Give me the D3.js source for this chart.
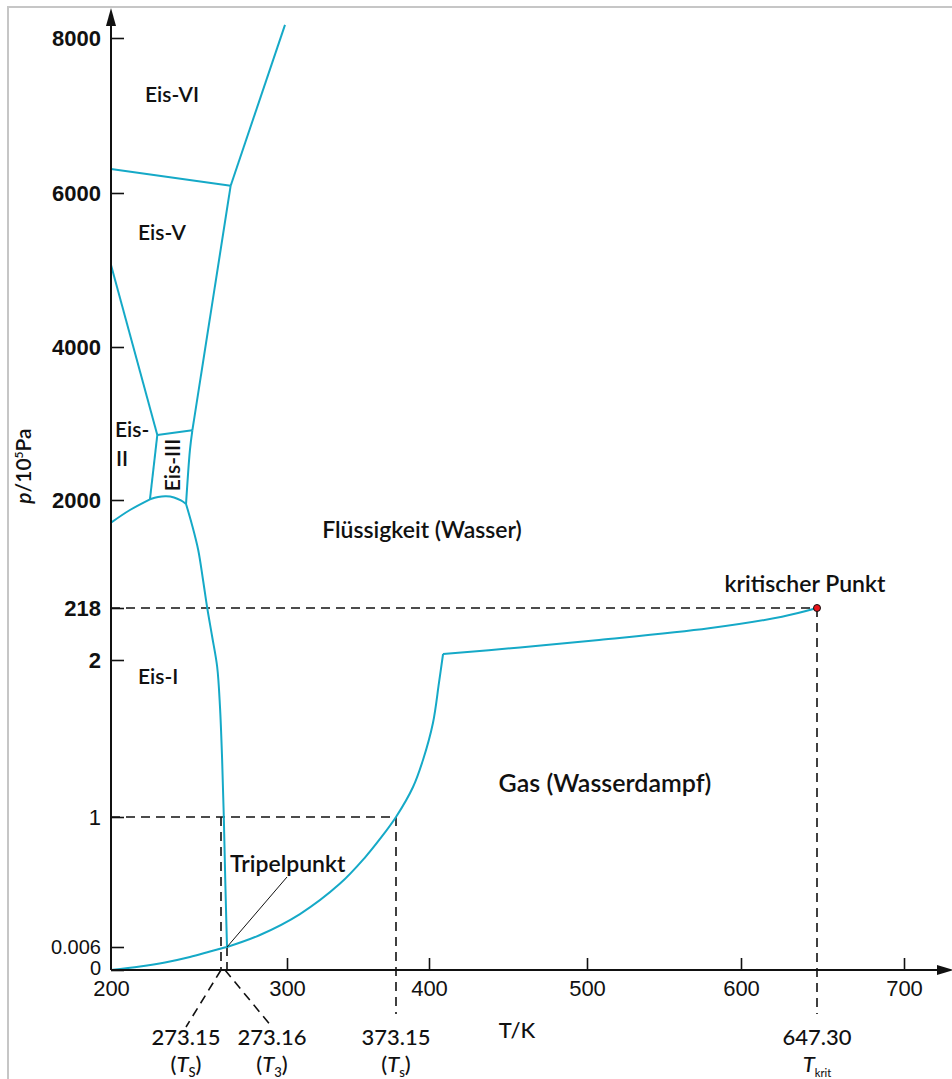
<!DOCTYPE html>
<html>
<head>
<meta charset="utf-8">
<script src="https://cdn.jsdelivr.net/npm/d3@7"></script>
<style>
body { margin: 0; background: #fff; }
svg { display: block; font-family: Lato, "Open Sans", sans-serif; }
</style>
</head>
<body>
<div id="chart"></div>
<script>
// phase boundaries of water, points are [T in K, p in 10^5 Pa]
var iceVI_liquid = [[274.8, 6094], [299.1, 8170]];
var iceV_VI = [[200, 6310], [274.8, 6094]];
var iceV_liquid = [[274.8, 6094], [254.1, 2911]];
var iceII_V = [[200, 5065], [230.8, 2850]];
var iceII_III_top = [[230.8, 2850], [254.1, 2911]];
var iceII_III_side = [[230.8, 2850], [225.9, 2009]];
var iceIII_liquid = [[254.1, 2911], [252.5, 2654], [249.9, 1934]];
var iceI_II = [[200, 1626], [212.6, 1835], [225.9, 2009]];
var iceI_III = [[225.9, 2009], [231.3, 2039], [236.6, 2048], [241.9, 2033], [246.5, 1992], [249.9, 1934]];
var meltingCurve = [[249.9, 1934], [253.9, 1588], [258.0, 1175], [261.2, 680], [264.0, 218], [267.2, 101.7],
  [270.6, 1.957], [272.47, 1.703], [273.1519, 1.363], [273.1547, 1], [273.1571, 0.518], [273.16, 0.006]];
var sublimationCurve = [[200, 0], [219.3, 0.00091], [235.9, 0.00196], [252.5, 0.00339], [265.8, 0.00483],
  [273.15, 0.00561], [273.16, 0.006]];
var boilingCurve = [[273.16, 0.006], [287.9, 0.098], [308.7, 0.258], [335.6, 0.491], [352.3, 0.690],
  [362.4, 0.832], [373.15, 1], [387.0, 1.191], [395.1, 1.363], [402.5, 1.599], [406.3, 1.854], [408.9, 26.9]];
var boilingCurveHigh = [[408.9, 26.9], [457.6, 53.9], [507.8, 85.1], [579.2, 133.7], [625.5, 181.9], [647.3, 218]];

var triplePoint = [273.16, 0.006];
var criticalPoint = [647.3, 218];

var xTicks = [200, 300, 400, 500, 600, 700];
var yTicks = [0, 0.006, 1, 2, 218, 2000, 4000, 6000, 8000];
var yTickLabels = ["0", "0.006", "1", "2", "218", "2000", "4000", "6000", "8000"];
var markedT = [273.15, 273.16, 373.15, 647.30];
var markedTLabels = ["273.15", "273.16", "373.15", "647.30"];
var markedTSubs = ["S", "3", "s", "krit"];

// the diagram is not to scale: piecewise linear axes
var xBreaks = [200, 273.15, 273.16, 300, 373.15, 400, 500, 600, 647.3, 700];
var xBreakPx = [111, 221, 227, 287, 396, 429, 587, 741, 817, 904];
var yBreaks = [0, 0.006, 1, 2, 218, 2000, 4000, 6000, 8000];
var yBreakPx = [970, 947, 817, 660, 608, 500, 347, 193, 38];

var width = 952, height = 1079;
var cyan = "#15a9c7";

var x = d3.scaleLinear().domain(xBreaks).range(xBreakPx);
var y = d3.scaleLinear().domain(yBreaks).range(yBreakPx);

var svg = d3.select("#chart").append("svg")
    .attr("width", width)
    .attr("height", height);

// light frame around the picture
svg.append("rect")
    .attr("x", 8).attr("y", 7)
    .attr("width", 1000).attr("height", 1100)
    .attr("fill", "none")
    .attr("stroke", "#c6c6c6")
    .attr("stroke-width", 2);

var x0 = x(200), y0 = y(0);

// dashed guide lines
function dashed(x1, y1, x2, y2) {
    svg.append("line")
        .attr("x1", x1).attr("y1", y1).attr("x2", x2).attr("y2", y2)
        .attr("stroke", "#111")
        .attr("stroke-width", 1.6)
        .attr("stroke-dasharray", "9,6");
}
dashed(x0, y(criticalPoint[1]), x(criticalPoint[0]), y(criticalPoint[1]));
dashed(x0, y(1), x(373.15), y(1));
dashed(x(273.15), y(1), x(273.15), y0);
dashed(x(273.16), y(triplePoint[1]), x(273.16), y0);
dashed(x(373.15), y(1), x(373.15), y0 + 44);
dashed(x(647.3), y(criticalPoint[1]), x(647.3), y0 + 44);
dashed(x(273.15), y0, x(273.15) - 35, y0 + 57);
dashed(x(273.16) - 2, y0, x(273.16) + 45, y0 + 57);

// phase boundaries
var straight = d3.line().x(function (d) { return x(d[0]); }).y(function (d) { return y(d[1]); });
var smooth = d3.line().x(function (d) { return x(d[0]); }).y(function (d) { return y(d[1]); })
    .curve(d3.curveCatmullRom.alpha(0.5));

var lines = [iceVI_liquid, iceV_VI, iceV_liquid, iceII_V, iceII_III_top, iceII_III_side];
var curves = [iceIII_liquid, iceI_II, iceI_III, meltingCurve, sublimationCurve, boilingCurve, boilingCurveHigh];

svg.selectAll("path.straight").data(lines).enter().append("path")
    .attr("class", "straight")
    .attr("d", straight)
    .attr("fill", "none")
    .attr("stroke", cyan)
    .attr("stroke-width", 2);

svg.selectAll("path.curve").data(curves).enter().append("path")
    .attr("class", "curve")
    .attr("d", smooth)
    .attr("fill", "none")
    .attr("stroke", cyan)
    .attr("stroke-width", 2);

// axes
var yAxis = d3.axisLeft(y)
    .tickValues(yTicks)
    .tickFormat(function (d, i) { return yTickLabels[i]; })
    .tickSizeInner(-13).tickSizeOuter(0).tickPadding(10);
var gy = svg.append("g").attr("transform", "translate(" + x0 + ",0)").call(yAxis);
gy.select(".domain").remove();
gy.selectAll(".tick line").attr("stroke", "#111").attr("stroke-width", 1.6);
gy.selectAll(".tick text")
    .attr("fill", "#111")
    .attr("dy", function (d) { return d === 0 ? "0.2em" : "0.32em"; })
    .style("font-size", function (d) { return d < 1 ? "20px" : "22px"; })
    .style("font-weight", function (d) { return d >= 2 ? 700 : 500; });

var xAxis = d3.axisBottom(x)
    .tickValues(xTicks)
    .tickSizeInner(-12).tickSizeOuter(0).tickPadding(10);
var gx = svg.append("g").attr("transform", "translate(0," + y0 + ")").call(xAxis);
gx.select(".domain").remove();
gx.selectAll(".tick line").attr("stroke", "#111").attr("stroke-width", 1.6)
    .attr("opacity", function (d) { return d === 200 ? 0 : 1; });
gx.selectAll(".tick text").attr("fill", "#111").style("font-size", "22px").style("font-weight", 500);

svg.append("line").attr("x1", x0).attr("y1", y0).attr("x2", x0).attr("y2", 22)
    .attr("stroke", "#111").attr("stroke-width", 2);
svg.append("path").attr("d", "M" + x0 + ",8L" + (x0 - 5) + ",26L" + (x0 + 5) + ",26Z").attr("fill", "#111");
svg.append("line").attr("x1", x0).attr("y1", y0).attr("x2", 940).attr("y2", y0)
    .attr("stroke", "#111").attr("stroke-width", 2);
svg.append("path").attr("d", "M954," + y0 + "L937," + (y0 - 5) + "L937," + (y0 + 5) + "Z").attr("fill", "#111");

// leader line to the triple point
svg.append("line")
    .attr("x1", x(triplePoint[0])).attr("y1", y(triplePoint[1]))
    .attr("x2", x(triplePoint[0]) + 60).attr("y2", y(triplePoint[1]) - 70)
    .attr("stroke", "#111").attr("stroke-width", 1);

// critical point
svg.append("circle")
    .attr("cx", x(criticalPoint[0])).attr("cy", y(criticalPoint[1]))
    .attr("r", 3.5)
    .attr("fill", "#e8141b")
    .attr("stroke", "#111")
    .attr("stroke-width", 1);

// region and point labels
function label(txt, px, py, opts) {
    opts = opts || {};
    return svg.append("text")
        .attr("x", px).attr("y", py)
        .attr("text-anchor", opts.anchor || "start")
        .attr("fill", "#111")
        .style("font-size", (opts.size || 21) + "px")
        .style("font-weight", opts.weight || 600)
        .text(txt);
}
label("Eis-VI", 145, 102);
label("Eis-V", 138, 240);
label("Eis-", 115, 437);
label("II", 116, 466);
label("Eis-III", 0, 0, { anchor: "middle" })
    .attr("transform", "translate(180,465) rotate(-90)");
label("Eis-I", 138, 684);
label("Flüssigkeit (Wasser)", 422, 538, { anchor: "middle", size: 23 });
label("kritischer Punkt", x(criticalPoint[0]) - 12, 592, { anchor: "middle", size: 23 });
label("Gas (Wasserdampf)", 605, 792, { anchor: "middle", size: 25 });
label("Tripelpunkt", 230, 872, { size: 23 });
label("T/K", 517, 1038, { anchor: "middle", weight: 500, size: 22 });

// y axis title p/10^5 Pa
var yt = svg.append("text")
    .attr("transform", "translate(31,466) rotate(-90)")
    .attr("text-anchor", "middle")
    .attr("fill", "#111")
    .style("font-size", "21px")
    .style("font-weight", 600);
yt.append("tspan").style("font-style", "italic").text("p");
yt.append("tspan").text("/10");
yt.append("tspan").attr("dy", -8).style("font-size", "12px").text("5");
yt.append("tspan").attr("dy", 8).text("Pa");

// marked temperatures below the axis
var labelX = [x(273.15) - 35, x(273.16) + 45, x(373.15), x(647.3)];
markedT.forEach(function (t, i) {
    label(markedTLabels[i], labelX[i], 1045, { anchor: "middle", size: 22, weight: 500 });
    var t2 = svg.append("text")
        .attr("x", labelX[i]).attr("y", 1072)
        .attr("text-anchor", "middle")
        .attr("fill", "#111")
        .style("font-size", "22px")
        .style("font-weight", 500);
    var krit = markedTSubs[i] === "krit";
    if (!krit) t2.append("tspan").text("(");
    t2.append("tspan").style("font-style", "italic").text("T");
    t2.append("tspan").attr("dy", 5).style("font-size", krit ? "11px" : "13px").text(markedTSubs[i]);
    if (!krit) t2.append("tspan").attr("dy", -5).text(")");
});
</script>
</body>
</html>
